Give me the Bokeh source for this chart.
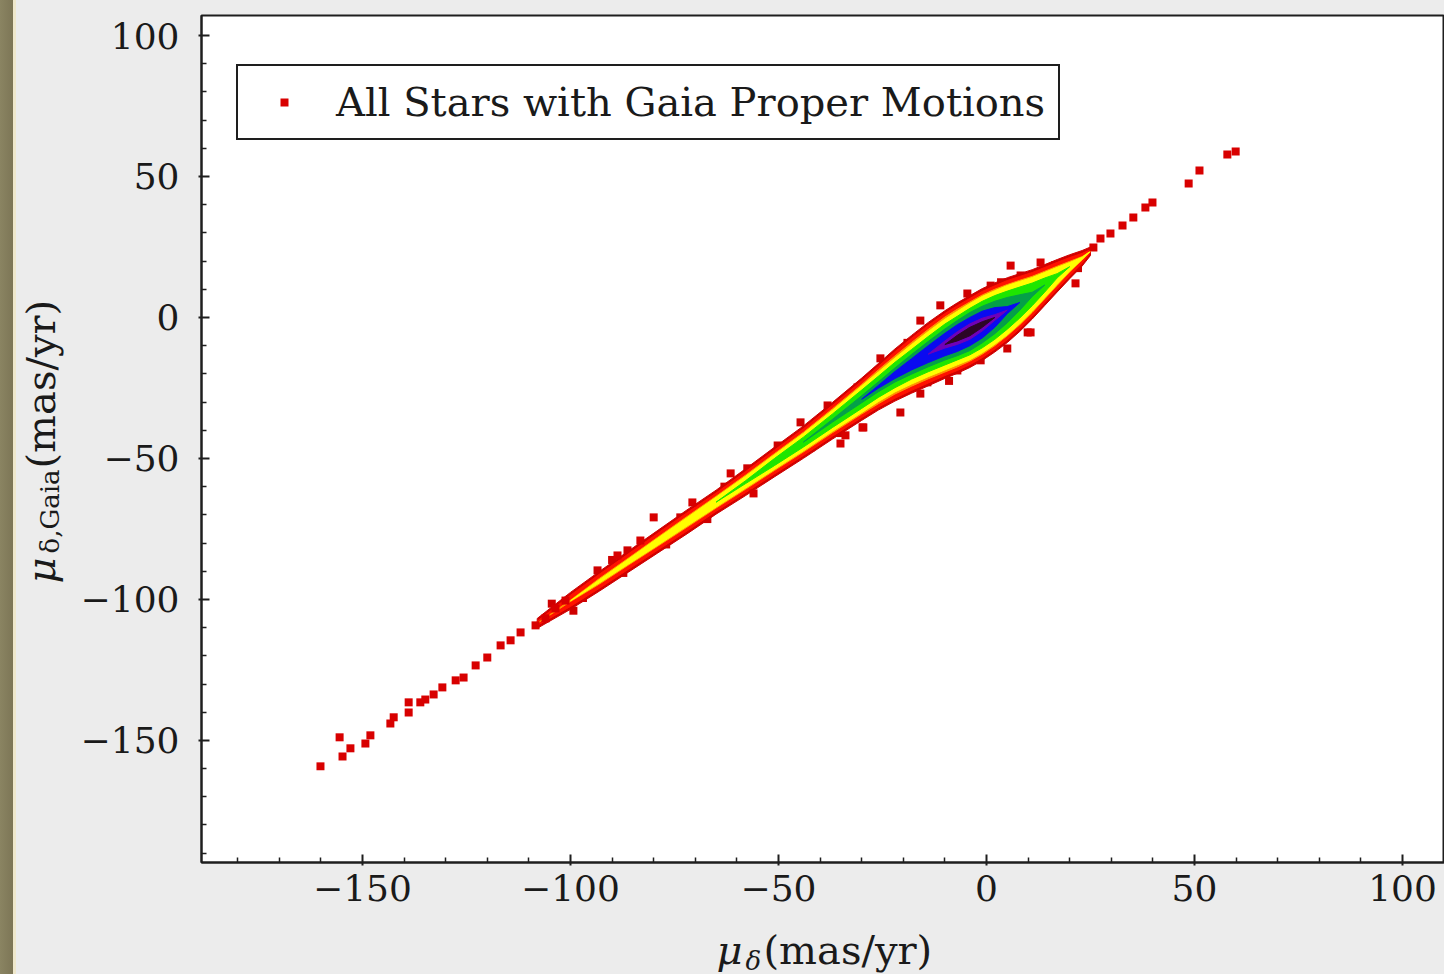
from bokeh.plotting import figure
from bokeh.models import Range1d, FixedTicker, Legend, LegendItem, Div
from bokeh.layouts import row, column
from bokeh.embed import file_html
from bokeh.resources import INLINE
from bokeh.core.properties import value

# ---------------- data ----------------
# stations along the main ridge of the density (x in mas/yr) and the ridge centre (y)
ridge_x = [-108, -100, -93, -86, -79, -72, -65, -58, -51, -44, -37, -30, -26, -22, -18,
           -14, -10, -7, -4, -1, 2, 5, 8, 11, 14, 17, 20, 23, 25]
ridge_y = [-108.5, -100.5, -93.5, -86.5, -79.5, -72.5, -65.5, -58.5, -51.3, -44.2, -36.6,
           -29.0, -24.6, -20.4, -16.6, -13.0, -9.6, -7.3, -5.0, -2.5, 0.0, 2.6, 5.3, 8.2,
           11.5, 14.8, 18.0, 21.0, 23.5]

# vertical thickness of each density level at the stations (mas/yr)
w_darkred = [3.5, 6, 7, 7.5, 8, 8.5, 8.5, 9.5, 10.5, 11.5, 13, 15, 16.5, 18.5, 20.5,
             22.5, 24, 25, 25.5, 25.5, 24.5, 23, 20.5, 17.5, 14.5, 11.5, 8.5, 5.5, 3]
w_red = [1.5, 4, 5, 5.5, 6, 6.5, 6.5, 7.5, 8.5, 9.5, 11, 13, 14.5, 16.5, 18.5,
         20.5, 22, 23, 23.5, 23.5, 22.5, 21, 18.5, 15.5, 12.5, 9.5, 6.5, 3.5, 1]
w_orange = [0, 0.5, 2, 2.5, 3.2, 3.8, 4.2, 5, 6, 7, 8.5, 10.5, 12, 13.5, 15.5,
            17.5, 19.5, 20.5, 21, 21, 20, 18.2, 15.8, 12.8, 9.8, 6.8, 3.8, 1.2, 0]
w_yellow = [0, 0, 1.2, 1.8, 2.5, 3, 3.5, 4.2, 5.2, 6.2, 7.5, 9.5, 10.5, 12, 14,
            16, 18, 19, 20, 20, 19, 17.5, 15, 12, 9, 6, 3, 0.8, 0]
w_green = [0, 0, 0, 0, 0, 0, 0, 1, 2.5, 3.5, 4.8, 6.5, 7.5, 9, 10.5,
           12.5, 14.5, 15.5, 16.5, 16.5, 15.5, 13.5, 11, 8, 5, 1.5, 0, 0, 0]
w_teal = [0, 0, 0, 0, 0, 0, 0, 0, 0, 0, 1, 2.5, 3.5, 5, 7,
          9, 11, 12.5, 13.5, 13, 11.5, 9, 5.5, 1.5, 0, 0, 0, 0, 0]
w_blue = [0, 0, 0, 0, 0, 0, 0, 0, 0, 0, 0, 0, 1, 2.5, 4,
          6, 8, 9.5, 10, 9.5, 7, 2.5, 0, 0, 0, 0, 0, 0, 0]
w_purple = [0, 0, 0, 0, 0, 0, 0, 0, 0, 0, 0, 0, 0, 0, 0,
            0, 2.5, 4.5, 5.5, 4.5, 2, 0, 0, 0, 0, 0, 0, 0, 0]
w_dark = [0, 0, 0, 0, 0, 0, 0, 0, 0, 0, 0, 0, 0, 0, 0,
          0, 0, 2, 3, 2, 0, 0, 0, 0, 0, 0, 0, 0, 0]

level_widths = [w_darkred, w_red, w_orange, w_yellow, w_green, w_teal, w_blue, w_purple, w_dark]
level_colors = ["#cf0000", "#ff1200", "#ff9600", "#ffff00", "#1ee600", "#04a048",
                "#0a0af0", "#7000b8", "#2c0626"]

# individual stars outside the dense ridge
star_x = [-160.1, -154.8, -155.5, -152.9, -149.3, -148.1, -143.3, -142.5, -138.9, -138.9,
          -136.1, -134.9, -132.9, -130.8, -127.6, -125.7, -122.8, -120.0, -116.8, -114.4,
          -112.0, -108.4, -106.0, -103.6, -101.2,
          -80.0, -88.7, -70.7, -61.5, -56.0, -83.2, -35.1, -29.8, -33.9, 10.6, 5.8, 13.0, 21.4,
          25.7, 27.4, 29.8, 32.7, 35.3, 38.2, 39.9, 48.6, 51.2, 57.9, 59.9]
star_y = [-159.2, -155.7, -148.9, -152.8, -151.1, -148.2, -144.0, -141.8, -140.1, -136.5,
          -136.5, -135.5, -133.7, -131.2, -128.7, -127.7, -123.4, -120.6, -116.3, -114.5,
          -111.7, -109.2, -106.7, -103.2, -100.4,
          -70.9, -84.4, -65.6, -55.3, -62.4, -79.1, -44.7, -39.0, -41.8, -5.3, 18.4, 19.5, 12.1,
          24.8, 28.0, 29.8, 32.6, 35.5, 39.0, 40.8, 47.5, 52.1, 57.8, 58.9]

# single stars that make the ragged rim of the ridge
rim_x = [-50.2, -44.7, -38.2, -31.0, -25.5, -47.8, -42.3, -29.6, -20.7, -15.9,
         -15.9, -11.1, -4.6, 1.0, 8.2, 9.9, 5.0, -1.4, -7.0, -14.2, -20.7,
         -93.5, -86.3, -73.6, -99.3, -87.3, -67.1,
         -104.5, -97.0, -90.0, -77.0, -63.0, -57.5, -40.5, -35.0, -19.0, -9.0, 3.5, 16.5, 22.0]
rim_y = [-45.4, -37.2, -31.2, -24.8, -14.5, -50.7, -46.1, -39.0, -33.7, -27.0,
         -1.1, 4.3, 8.5, 11.3, 14.9, -5.3, -11.0, -15.2, -18.8, -23.0, -26.6,
         -89.7, -82.6, -70.9, -104.0, -90.6, -71.5,
         -101.5, -99.5, -86.0, -80.5, -60.0, -53.5, -41.5, -41.0, -9.0, -22.5, 12.5, 18.5, 17.5]

x_ticks = [-150, -100, -50, 0, 50, 100]
x_tick_labels = ["\u2212150", "\u2212100", "\u221250", "0", "50", "100"]
y_ticks = [-150, -100, -50, 0, 50, 100]
y_tick_labels = ["\u2212150", "\u2212100", "\u221250", "0", "50", "100"]
legend_label = "All Stars with Gaia Proper Motions"

# ---------------- figure ----------------
TEXT = "#1a1a1a"
FONT = "DejaVu Serif"
BG = "#ececec"

p = figure(width=1378, height=920, output_backend="svg", toolbar_location=None,
           x_range=Range1d(-188.7, 110.1), y_range=Range1d(-193.3, 107.1),
           min_border_left=135, min_border_right=0, min_border_top=15, min_border_bottom=58)
p.background_fill_color = "white"
p.border_fill_color = BG
p.outline_line_color = "#1e1e1e"
p.outline_line_width = 2
p.xgrid.visible = False
p.ygrid.visible = False


def band(widths):
    idx = [i for i, v in enumerate(widths) if v > 0]
    i0 = max(idx[0] - 1, 0)
    i1 = min(idx[-1] + 1, len(widths) - 1)
    xs = ridge_x[i0:i1 + 1]
    up = [ridge_y[i] + widths[i] / 2 for i in range(i0, i1 + 1)]
    lo = [ridge_y[i] - widths[i] / 2 for i in range(i0, i1 + 1)]
    return xs + xs[::-1], up + lo[::-1]


for i, (widths, col) in enumerate(zip(level_widths, level_colors)):
    bx, by = band(widths)
    p.patch(bx, by, fill_color=col, line_color=col, line_width=1)
    if i == 0:
        p.scatter(rim_x, rim_y, marker="square", size=8, fill_color=col, line_color=None)

stars = p.scatter(star_x, star_y, marker="square", size=8, fill_color="#d80000", line_color=None)

legend = Legend(items=[LegendItem(label=legend_label, renderers=[stars])],
                location=(35, 722), padding=13, glyph_width=66, glyph_height=20,
                label_standoff=19, label_text_font=FONT, label_text_font_size="40px",
                label_text_color=TEXT, border_line_color="#1e1e1e", border_line_width=2,
                border_line_alpha=1.0, background_fill_color="white",
                background_fill_alpha=1.0, margin=0, spacing=0)
p.add_layout(legend)

x_minor = [v for v in range(-180, 111, 10) if v not in x_ticks]
y_minor = [v for v in range(-190, 101, 10) if v not in y_ticks]
p.xaxis.ticker = FixedTicker(ticks=x_ticks, minor_ticks=x_minor)
p.yaxis.ticker = FixedTicker(ticks=y_ticks, minor_ticks=y_minor)
p.xaxis.major_label_overrides = dict(zip(x_ticks, x_tick_labels))
p.yaxis.major_label_overrides = dict(zip(y_ticks, y_tick_labels))

for ax in (p.xaxis[0], p.yaxis[0]):
    ax.axis_line_width = 2
    ax.axis_line_color = "#1e1e1e"
    ax.major_tick_in = 8
    ax.major_tick_out = 3
    ax.minor_tick_in = 5
    ax.minor_tick_out = 0
    ax.major_tick_line_width = 2
    ax.minor_tick_line_width = 1.5
    ax.major_tick_line_color = "#1e1e1e"
    ax.minor_tick_line_color = "#1e1e1e"
    ax.major_label_text_font = FONT
    ax.major_label_text_font_size = "36px"
    ax.major_label_text_color = TEXT
p.xaxis.major_label_standoff = 9
p.yaxis.major_label_standoff = 19


def title_fig(w, h, xr, yr, bl=0, bt=0, bb=0):
    # ranges are page pixels (x from the left edge, y up from the bottom edge)
    f = figure(width=w, height=h, output_backend="svg", toolbar_location=None,
               x_range=Range1d(*xr), y_range=Range1d(*yr),
               x_axis_location=None, y_axis_location=None, min_border=0,
               min_border_left=bl, min_border_right=0, min_border_top=bt,
               min_border_bottom=bb)
    f.background_fill_color = BG
    f.border_fill_color = BG
    f.outline_line_color = None
    f.xgrid.visible = False
    f.ygrid.visible = False
    return f


def put(f, text, x, y, size, style="normal", angle=0.0):
    f.text(x=[x], y=[y], text=[text], text_font=value(FONT), text_font_size=size,
           text_font_style=style, text_color=TEXT, angle=angle,
           text_align="left", text_baseline="alphabetic")


# x-axis title  mu_delta (mas/yr)   (frame = page x 201..1444, page y 0..54 from bottom)
xt = title_fig(1428, 54, (201, 1444), (0, 54), bl=185)
put(xt, "\u03bc", 716, 25, "40px", "italic")
put(xt, "\u03b4", 745, 14, "26px", "italic")
put(xt, "(mas/yr)", 763, 25, "40px")

# y-axis title  mu_{delta,Gaia} (mas/yr)  (frame = page x 16..66, page y 112..959 from bottom)
yt = title_fig(50, 920, (16, 66), (112, 959), bt=15, bb=58)
A = 1.5707963
put(yt, "\u03bc", 40, 391, "40px", "italic", A)
put(yt, "\u03b4,Gaia", 49, 421, "26px", "normal", A)
put(yt, "(mas/yr)", 40, 506, "40px", "normal", A)

strip = Div(width=16, height=974, text="", margin=0,
            styles={"background": "linear-gradient(to right, #8a8462 0px, #7d7656 13px, #efe8cc 13px, #efe8cc 16px)"})
bgstyle = {"background-color": BG}
layout = row(strip, column(row(yt, p, styles=bgstyle), xt, styles=bgstyle), styles=bgstyle)

open("out.html", "w").write(file_html(layout, INLINE))
